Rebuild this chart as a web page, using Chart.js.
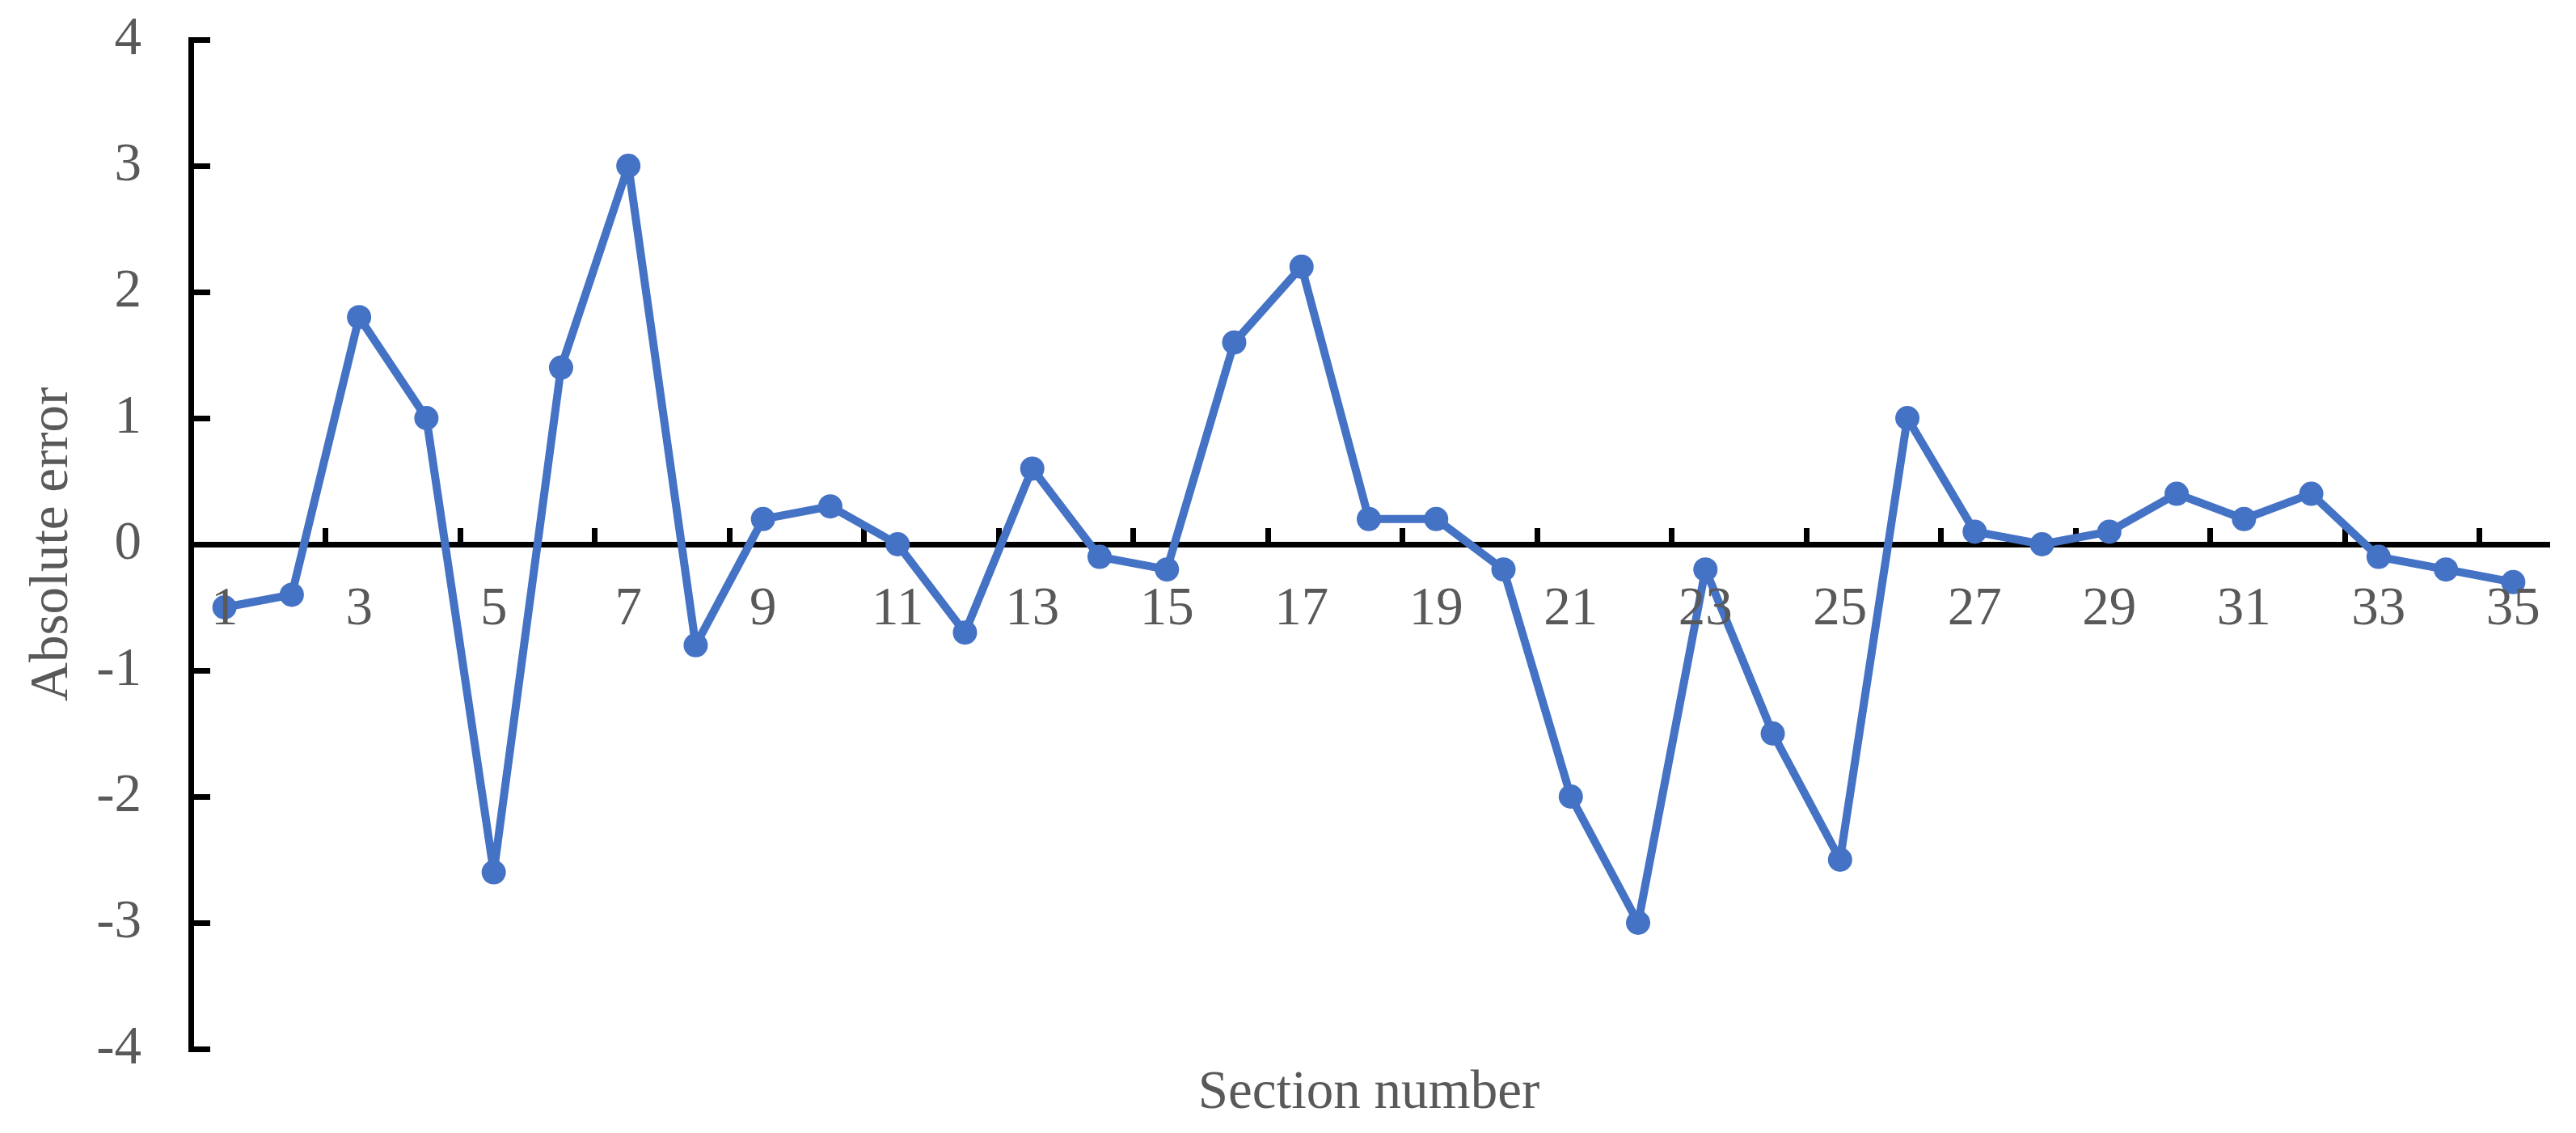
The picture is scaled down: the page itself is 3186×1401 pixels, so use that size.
<!DOCTYPE html>
<html>
<head>
<meta charset="utf-8">
<script src="https://cdn.jsdelivr.net/npm/chart.js@4.4.1/dist/chart.umd.min.js"></script>
<style>
  html, body { margin: 0; padding: 0; background: #fff; }
  #wrap { width: 3186px; height: 1401px; }
</style>
</head>
<body>
<div id="wrap"><canvas id="myChart" width="3186" height="1401"></canvas></div>
<script>
// section numbers 1..35
var sections = ["1","2","3","4","5","6","7","8","9","10","11","12","13","14","15","16","17","18",
  "19","20","21","22","23","24","25","26","27","28","29","30","31","32","33","34","35"];

// absolute error per section
var absError = [-0.5, -0.4, 1.8, 1.0, -2.6, 1.4, 3.0, -0.8, 0.2, 0.3, 0.0, -0.7, 0.6, -0.1, -0.2,
  1.6, 2.2, 0.2, 0.2, -0.2, -2.0, -3.0, -0.2, -1.5, -2.5, 1.0, 0.1, 0.0, 0.1, 0.4, 0.2, 0.4,
  -0.1, -0.2, -0.3];

var yTicks = [-4, -3, -2, -1, 0, 1, 2, 3, 4];

var blue = "#4472C4";
var grey = "#595959";
var fontFam = "'Liberation Serif', 'Times New Roman', serif";

var ctx = document.getElementById("myChart");
var myChart = new Chart(ctx, {
  type: "line",
  data: {
    labels: sections,
    datasets: [
      {
        label: "Absolute error",
        data: absError,
        borderColor: blue,
        backgroundColor: blue,
        borderWidth: 10,
        borderJoinStyle: "round",
        borderCapStyle: "round",
        pointRadius: 15,
        pointBorderWidth: 0,
        pointBackgroundColor: blue,
        tension: 0,
      },
    ],
  },
  options: {
    responsive: false,
    animation: false,
    layout: { padding: { top: 49, right: 36, left: 0, bottom: 0 } },
    plugins: { legend: { display: false }, tooltip: { enabled: false } },
    scales: {
      x: {
        type: "category",
        position: { y: 0 },
        offset: true,
        grid: {
          offset: true,
          drawOnChartArea: false,
          drawTicks: true,
          tickLength: -24,
          lineWidth: 7,
          // tick mark only before every odd section
          color: (c) => (c.type === "tick" && c.index % 2 === 0 && c.index > 0 ? "#000" : "rgba(0,0,0,0)"),
        },
        border: { display: true, color: "#000", width: 7 },
        ticks: {
          autoSkip: false,
          maxRotation: 0,
          padding: 65,
          z: 1,
          color: grey,
          font: { family: fontFam, size: 67 },
          callback: function (v, i) { return i % 2 === 0 ? sections[i] : ""; },
        },
        afterFit: function (s) { s.paddingLeft = 0; s.paddingRight = 0; },
      },
      xTitle: {
        type: "category",
        axis: "x",
        position: "bottom",
        grid: { display: false },
        border: { display: false },
        ticks: { display: false },
        title: {
          display: true,
          text: "Section number",
          color: grey,
          font: { family: fontFam, size: 67 },
          padding: { top: 0, bottom: 8 },
        },
        afterFit: function (s) { s.height = 104; s.paddingLeft = 0; s.paddingRight = 0; },
      },
      y: {
        min: -4,
        max: 4,
        afterBuildTicks: function (s) { s.ticks = yTicks.map((v) => ({ value: v })); },
        grid: {
          drawOnChartArea: false,
          drawTicks: true,
          tickLength: -24,
          lineWidth: 7,
          color: "#000",
        },
        border: { display: true, color: "#000", width: 7 },
        ticks: {
          padding: 85,
          color: grey,
          font: { family: fontFam, size: 67 },
        },
        title: {
          display: true,
          text: "Absolute error",
          color: grey,
          font: { family: fontFam, size: 67 },
          padding: { top: 25, bottom: 0 },
        },
        afterFit: function (s) { s.width = 236; s.paddingTop = 0; s.paddingBottom = 0; },
      },
    },
  },
});
</script>
</body>
</html>
